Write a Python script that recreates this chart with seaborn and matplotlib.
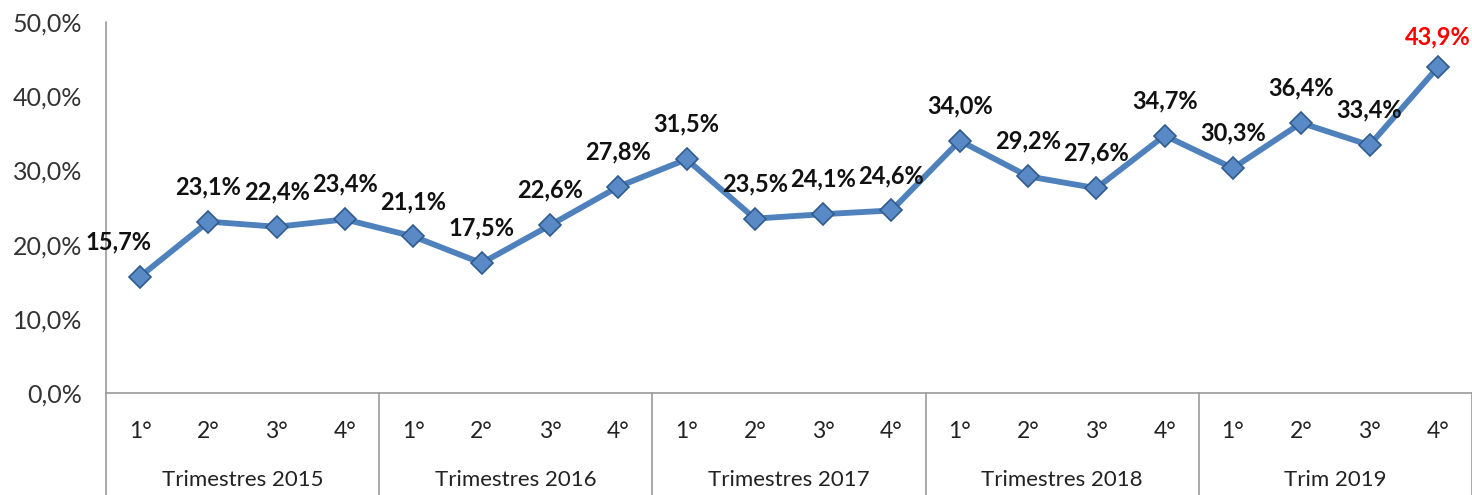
import numpy as np
import pandas as pd
import matplotlib
matplotlib.use("Agg")
import matplotlib.pyplot as plt
import matplotlib.transforms as mtransforms
import seaborn as sns

quarters = ["1°", "2°", "3°", "4°"] * 5
groups = ["Trimestres 2015", "Trimestres 2016", "Trimestres 2017", "Trimestres 2018", "Trim 2019"]
values = [15.7, 23.1, 22.4, 23.4, 21.1, 17.5, 22.6, 27.8, 31.5, 23.5,
          24.1, 24.6, 34.0, 29.2, 27.6, 34.7, 30.3, 36.4, 33.4, 43.9]
y_ticks = [0, 10, 20, 30, 40, 50]

sns.set_style("white")
plt.rcParams['font.family'] = ['Lato', 'DejaVu Sans']

df = pd.DataFrame({"idx": np.arange(len(values)), "val": values})

fig = plt.figure(figsize=(14.72, 4.95), dpi=100)
ax = fig.add_axes([106/1472, 1-393/495, 1-106/1472, (393-22)/495])

line_c = "#4f81bd"
sns.lineplot(data=df, x="idx", y="val", ax=ax, color=line_c, linewidth=4.2,
             marker="D", markersize=11.5, markerfacecolor="#5a8ac6",
             markeredgecolor="#2f5b8f", markeredgewidth=1.2, zorder=3)

ax.set_xlim(-0.5, len(values) - 0.5)
ax.set_ylim(0, 50)
ax.set_yticks(y_ticks)
ax.set_yticklabels([f"{v:.1f}".replace(".", ",") + "%" for v in y_ticks],
                   fontsize=18, color="#333333")
ax.tick_params(axis="y", length=0, pad=17)
ax.set_xticks([])
ax.set_xlabel("")
ax.set_ylabel("")

for s in ["top", "right", "left"]:
    ax.spines[s].set_visible(False)
ax.spines["bottom"].set_color("#999999")
ax.spines["bottom"].set_linewidth(1.2)

trans = mtransforms.blended_transform_factory(ax.transData, fig.transFigure)
ax.plot([-0.5, -0.5], [0, 1 - 22/495], transform=trans, color="#999999",
        linewidth=1.2, clip_on=False)
for g in range(1, len(groups) + 1):
    xg = g * 4 - 0.5
    ax.plot([xg, xg], [0, 1 - 393/495], transform=trans, color="#999999",
            linewidth=1.2, clip_on=False)

for i, q in enumerate(quarters):
    ax.text(i, 1 - 432/495, q, transform=trans, ha="center", va="center",
            fontsize=16.5, color="#222222")
for g, name in enumerate(groups):
    ax.text(g * 4 + 1.5, 1 - 480/495, name, transform=trans, ha="center",
            va="center", fontsize=16, color="#222222")

for i, v in enumerate(values):
    lab = f"{v:.1f}".replace(".", ",") + "%"
    dx = -22 if i == 0 else 0
    dy = 35 if i != len(values) - 1 else 30
    color = "#ff0000" if i == len(values) - 1 else "#111111"
    ax.annotate(lab, (i, v), xytext=(dx * 0.72, dy * 0.72), textcoords="offset points",
                ha="center", va="center", fontsize=17, fontweight="bold", color=color)

fig.savefig("out.png", dpi=100)
